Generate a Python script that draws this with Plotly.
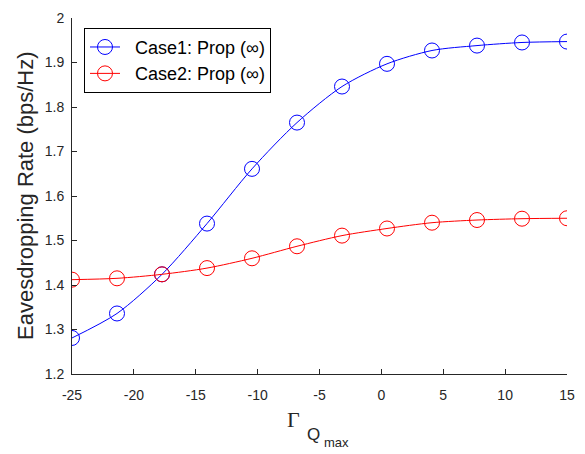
import numpy as np
import plotly.graph_objects as go

gamma_q = list(np.linspace(-25, 15, 12))
case1 = [1.281, 1.336, 1.424, 1.538, 1.661, 1.765, 1.846, 1.897, 1.927, 1.938, 1.945, 1.947]
case2 = [1.412, 1.415, 1.424, 1.438, 1.460, 1.487, 1.511, 1.527, 1.540, 1.546, 1.549, 1.550]
names = ["Case1: Prop (\u221e)", "Case2: Prop (\u221e)"]
colors = ["#0000FF", "#FF0000"]
xticks = [-25, -20, -15, -10, -5, 0, 5, 10, 15]
yticks = [1.2, 1.3, 1.4, 1.5, 1.6, 1.7, 1.8, 1.9, 2.0]

fig = go.Figure()
for ys, nm, c in zip([case1, case2], names, colors):
    fig.add_trace(go.Scatter(
        x=gamma_q, y=ys, name="\u00a0\u00a0" + nm, mode="lines+markers",
        line=dict(color=c, width=1, shape="spline", smoothing=0.8),
        marker=dict(symbol="circle-open", size=15, color=c, line=dict(width=1, color=c)),
    ))

W, H = 585, 454
L, R, T, B = 72, 18, 10, 80
pw = W - L - R
ph = H - T - B
axc = "#262626"
fig.update_layout(
    width=W, height=H,
    margin=dict(l=L, r=R, t=T, b=B),
    plot_bgcolor="white", paper_bgcolor="white",
    font=dict(family="Arial, Liberation Sans", size=14, color=axc),
    showlegend=True,
    legend=dict(
        x=(84 - L) / pw, y=1 - (20 - T) / ph, xanchor="left", yanchor="top",
        bgcolor="white", bordercolor="#000000", borderwidth=1,
        font=dict(size=18, color="#000000"), tracegroupgap=0,
        itemwidth=30,
    ),
    xaxis=dict(
        range=[-25, 15], tickvals=xticks, ticktext=[str(v) for v in xticks],
        showgrid=False, zeroline=False, showline=True, linecolor=axc, linewidth=1,
        ticks="inside", ticklen=5, tickcolor=axc, tickfont=dict(size=14, color=axc),
        ticklabelstandoff=8, mirror=False,
    ),
    yaxis=dict(
        range=[1.2, 2.0], tickvals=yticks, ticktext=[f"{v:g}" for v in yticks],
        showgrid=False, zeroline=False, showline=True, linecolor=axc, linewidth=1,
        ticks="inside", ticklen=5, tickcolor=axc, tickfont=dict(size=14, color=axc),
        ticklabelstandoff=4, mirror=False,
    ),
)

def px(xp):
    return (xp - L) / pw

def py(yp):
    return 1 - (yp - T) / ph

ann = [
    dict(text="Eavesdropping Rate (bps/Hz)", x=px(25), y=py(192), textangle=-90,
         font=dict(size=22, color=axc, family="Arial, Liberation Sans")),
    dict(text="\u0393", x=px(293), y=py(421),
         font=dict(size=22, color=axc, family="Liberation Serif, Times New Roman, serif")),
    dict(text="Q", x=px(313), y=py(436),
         font=dict(size=17, color=axc, family="Arial, Liberation Sans")),
    dict(text="max", x=px(336), y=py(444),
         font=dict(size=13, color=axc, family="Arial, Liberation Sans")),
]
for a in ann:
    fig.add_annotation(xref="paper", yref="paper", showarrow=False,
                       xanchor="center", yanchor="middle", **a)

fig.write_html("out.html")
